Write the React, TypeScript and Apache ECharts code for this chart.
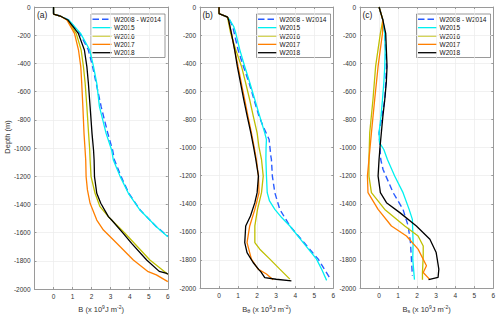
import React, { useEffect, useRef } from "react";
import * as echarts from "echarts";

// ---------- data: [value (x10^9 J m^-2), depth (m)] ----------
const seriesNames = ["W2008 - W2014", "W2015", "W2016", "W2017", "W2018"];
const seriesColors = ["#2a5cff", "#00f0f0", "#bfbf00", "#ff7f00", "#000000"];
const panelLabels = ["(a)", "(b)", "(c)"];
const xTicks = [-1, 0, 1, 2, 3, 4, 5, 6];

// Panel (a): B
const aClim = [[0, 0], [0, -50], [0.35, -64], [0.78, -92], [1.38, -187], [1.83, -305], [2.05, -423], [2.24, -541], [2.5, -707], [2.85, -896], [3.1, -1014], [3.2, -1085], [3.55, -1203], [3.95, -1321], [4.55, -1440], [5.4, -1558], [6, -1625]];
const a2015 = [[0, 0], [0, -50], [0.35, -64], [0.8, -92], [1.42, -187], [1.9, -305], [2.1, -423], [2.27, -541], [2.41, -707], [2.76, -896], [3.05, -1014], [3.14, -1085], [3.5, -1203], [3.93, -1321], [4.54, -1440], [5.4, -1558], [6, -1629]];
const a2016 = [[0, 0], [0, -50], [0.35, -64], [0.72, -92], [1.19, -187], [1.45, -305], [1.57, -423], [1.66, -541], [1.75, -707], [1.84, -896], [1.9, -1014], [1.92, -1085], [1.97, -1203], [2.18, -1321], [2.44, -1416], [2.88, -1487], [3.75, -1605], [5.06, -1794], [6, -1895]];
const a2017 = [[0, 0], [0, -50], [0.35, -64], [0.7, -92], [1.1, -187], [1.31, -305], [1.43, -423], [1.48, -541], [1.54, -707], [1.6, -896], [1.65, -1000], [1.69, -1085], [1.71, -1203], [1.78, -1297], [1.92, -1392], [2.27, -1511], [2.62, -1582], [3.32, -1676], [4.19, -1794], [4.97, -1877], [5.4, -1900], [6, -1948]];
const a2018 = [[0, 0], [0, -50], [0.35, -64], [0.75, -92], [1.3, -187], [1.62, -305], [1.75, -423], [1.83, -541], [1.92, -707], [2.02, -896], [2.1, -1014], [2.13, -1085], [2.15, -1203], [2.27, -1321], [2.48, -1392], [2.88, -1487], [3.05, -1511], [3.66, -1605], [4.1, -1676], [4.89, -1794], [5.55, -1875], [5.95, -1890], [6, -1895]];

// Panel (b): B_theta
const bClim = [[0, 0], [0, -47], [0.45, -72], [0.55, -92], [0.72, -139], [0.8, -187], [1.0, -305], [1.28, -423], [1.58, -541], [1.84, -660], [2.1, -778], [2.35, -860], [2.63, -943], [2.72, -1061], [2.75, -1085], [2.8, -1203], [2.93, -1321], [3.19, -1440], [3.72, -1558], [4.46, -1676], [5.21, -1794], [5.74, -1912], [5.88, -1940]];
const b2015 = [[0, 0], [0, -47], [0.45, -72], [0.56, -92], [0.77, -139], [0.88, -187], [1.09, -305], [1.35, -423], [1.62, -541], [1.88, -660], [2.14, -778], [2.4, -896], [2.49, -943], [2.47, -1000], [2.46, -1085], [2.49, -1203], [2.53, -1321], [2.65, -1380], [2.93, -1440], [3.3, -1500], [3.72, -1558], [4.42, -1676], [5.12, -1794], [5.4, -1870], [5.65, -1945]];
const b2016 = [[0, 0], [0, -47], [0.45, -72], [0.47, -92], [0.61, -187], [0.88, -305], [1.18, -423], [1.4, -541], [1.61, -660], [1.8, -778], [2.0, -896], [2.09, -991], [2.23, -1085], [2.32, -1203], [2.23, -1321], [2.02, -1440], [1.88, -1558], [1.88, -1676], [2.14, -1723], [2.67, -1794], [3.19, -1865], [3.72, -1936]];
const b2017 = [[0, 0], [0, -47], [0.45, -72], [0.5, -92], [0.65, -187], [0.82, -305], [1.0, -423], [1.17, -541], [1.35, -660], [1.52, -778], [1.7, -896], [1.85, -1000], [1.96, -1085], [2.07, -1203], [2.1, -1321], [1.88, -1440], [1.61, -1558], [1.47, -1676], [1.7, -1794], [2.05, -1865], [2.49, -1900], [2.84, -1940]];
const b2018 = [[0, 0], [0, -47], [0.45, -72], [0.5, -92], [0.65, -187], [0.82, -305], [0.96, -423], [1.13, -541], [1.3, -660], [1.48, -778], [1.67, -896], [1.82, -1000], [1.93, -1085], [2.07, -1203], [2.0, -1321], [1.88, -1392], [1.65, -1487], [1.4, -1558], [1.35, -1676], [1.47, -1747], [1.79, -1818], [2.1, -1870], [2.2, -1885], [2.4, -1925], [3.0, -1937], [3.8, -1948]];

// Panel (c): B_s
const cClim = [[0, 0], [0.2, -92], [0.3, -187], [0.39, -423], [0.35, -541], [0.3, -660], [0.15, -780], [0, -896], [0.05, -1000], [0.09, -1085], [0.21, -1156], [0.74, -1321], [1.26, -1440], [1.53, -1558], [1.65, -1676], [1.7, -1794], [1.75, -1912]];
const c2015 = [[0, 0], [0.2, -92], [0.3, -187], [0.32, -305], [0.3, -423], [0.25, -541], [0.18, -660], [0.1, -780], [0, -896], [0.03, -967], [0.25, -1014], [0.44, -1085], [0.82, -1203], [1.26, -1321], [1.58, -1440], [1.75, -1511], [1.79, -1676], [1.77, -1794], [1.86, -1940]];
const c2016 = [[0, 0], [0.2, -92], [0.07, -187], [-0.18, -423], [-0.32, -660], [-0.49, -896], [-0.53, -1085], [-0.53, -1203], [-0.4, -1321], [0.3, -1440], [1.35, -1558], [2.05, -1629], [2.32, -1700], [2.32, -1770], [2.28, -1889], [2.28, -1940]];
const c2017 = [[0, 0], [0.2, -92], [0.18, -187], [-0.05, -423], [-0.23, -660], [-0.4, -896], [-0.53, -1085], [-0.61, -1203], [-0.58, -1321], [-0.05, -1440], [0.65, -1558], [1.44, -1629], [2.05, -1723], [2.49, -1841], [2.32, -1889], [2.67, -1940]];
const c2018 = [[0, 0], [0.2, -92], [0.35, -187], [0.42, -423], [0.38, -541], [0.3, -660], [0.2, -780], [0.12, -896], [0.05, -1000], [0, -1085], [-0.05, -1203], [0.07, -1321], [0.39, -1392], [1.09, -1463], [1.96, -1558], [2.67, -1652], [3.0, -1747], [3.14, -1865], [3.1, -1924], [2.6, -1940]];

const panels = [
  [aClim, a2015, a2016, a2017, a2018],
  [bClim, b2015, b2016, b2017, b2018],
  [cClim, c2015, c2016, c2017, c2018],
];

const FONT = "Liberation Sans, Arial, Helvetica, sans-serif";
const gridLefts = [34.5, 200, 360];
const GRID_TOP = 7;
const GRID_W = 133.3;
const GRID_H = 282;

const xNames = [
  "{n|B (x 10}{sup|9}{n|J m}{sup|-2}{n|)}",
  "{n|B}{sub|θ}{n| (x 10}{sup|9}{n|J m}{sup|-2}{n|)}",
  "{n|B}{sub|s}{n| (x 10}{sup|9}{n|J m}{sup|-2}{n|)}",
];

export default function App() {
  const ref = useRef<HTMLDivElement>(null);

  useEffect(() => {
    if (!ref.current) return;
    const chart = echarts.init(ref.current, undefined, { renderer: "svg" });

    const axisColor = "#9a9a9a";
    const labelColor = "#333333";
    const gridColor = "#ebebeb";

    const grids = gridLefts.map((l) => ({
      left: l,
      top: GRID_TOP,
      width: GRID_W,
      height: GRID_H,
      containLabel: false,
    }));

    const xAxes: any[] = [];
    const yAxes: any[] = [];
    for (let i = 0; i < 3; i++) {
      xAxes.push({
        type: "value",
        gridIndex: i,
        position: "bottom",
        min: xTicks[0],
        max: xTicks[xTicks.length - 1],
        interval: 1,
        name: xNames[i],
        nameLocation: "middle",
        nameGap: 13,
        nameTextStyle: {
          rich: {
            n: { fontSize: 7.5, fontFamily: FONT, color: labelColor, lineHeight: 10 },
            sup: { fontSize: 5, fontFamily: FONT, color: labelColor, verticalAlign: "top", lineHeight: 6 },
            sub: { fontSize: 5.5, fontFamily: FONT, color: labelColor, verticalAlign: "bottom", lineHeight: 6, padding: [4, 0, 0, 0] },
          },
        },
        axisLine: { show: true, onZero: false, lineStyle: { color: axisColor, width: 1 } },
        axisTick: { show: true, inside: true, length: 2, lineStyle: { color: axisColor } },
        axisLabel: {
          fontSize: 6.5,
          fontFamily: FONT,
          color: labelColor,
          margin: 4,
          formatter: (v: number) => (v < 0 ? "" : String(v)),
        },
        splitLine: { show: true, lineStyle: { color: gridColor, width: 0.7 } },
      });
      yAxes.push({
        type: "value",
        gridIndex: i,
        position: "left",
        min: -2000,
        max: 0,
        interval: 200,
        axisLine: { show: true, onZero: false, lineStyle: { color: axisColor, width: 1 } },
        axisTick: { show: true, inside: true, length: 2, lineStyle: { color: axisColor } },
        axisLabel: {
          fontSize: 6.5,
          fontFamily: FONT,
          color: labelColor,
          margin: 4,
          formatter: (v: number) => String(v),
        },
        splitLine: { show: true, lineStyle: { color: gridColor, width: 0.7 } },
      });
    }
    for (let i = 0; i < 3; i++) {
      xAxes.push({
        type: "value",
        gridIndex: i,
        position: "top",
        min: xTicks[0],
        max: xTicks[xTicks.length - 1],
        interval: 1,
        axisLine: { show: true, onZero: false, lineStyle: { color: axisColor, width: 1 } },
        axisTick: { show: true, inside: true, length: 2, lineStyle: { color: axisColor } },
        axisLabel: { show: false },
        splitLine: { show: false },
      });
      yAxes.push({
        type: "value",
        gridIndex: i,
        position: "right",
        min: -2000,
        max: 0,
        interval: 200,
        axisLine: { show: true, onZero: false, lineStyle: { color: axisColor, width: 1 } },
        axisTick: { show: true, inside: true, length: 2, lineStyle: { color: axisColor } },
        axisLabel: { show: false },
        splitLine: { show: false },
      });
    }

    const series: any[] = [];
    panels.forEach((curves, p) => {
      curves.forEach((data, k) => {
        series.push({
          type: "line",
          name: seriesNames[k],
          xAxisIndex: p,
          yAxisIndex: p,
          data,
          symbol: "none",
          showSymbol: false,
          clip: true,
          z: 2 + k,
          lineStyle: {
            color: seriesColors[k],
            width: k === 0 ? 1.4 : 1.3,
            type: k === 0 ? [6, 3.5] : "solid",
          },
          itemStyle: { color: seriesColors[k] },
        });
      });
    });

    const graphic: any[] = panelLabels.map((t, i) => ({
      type: "text",
      left: gridLefts[i] + 2.5,
      top: 10,
      z: 10,
      style: { text: t, fontSize: 8.5, fontFamily: FONT, fill: "#222222" },
    }));
    graphic.push({
      type: "text",
      x: 7,
      y: 137,
      rotation: Math.PI / 2,
      z: 10,
      style: {
        text: "Depth (m)",
        fontSize: 7.5,
        fontFamily: FONT,
        fill: labelColor,
        align: "center",
        verticalAlign: "middle",
      },
    });

    // legend boxes (one per panel)
    gridLefts.forEach((l) => {
      const bx = l + 56.5;
      const by = 14;
      const children: any[] = [
        {
          type: "rect",
          shape: { x: 0, y: 0, width: 74, height: 43.5 },
          style: { fill: "#ffffff", stroke: "#555555", lineWidth: 0.6 },
        },
      ];
      seriesNames.forEach((name, k) => {
        const yy = 5.3 + k * 8.35;
        children.push({
          type: "line",
          shape: { x1: 1.5, y1: yy, x2: 20.5, y2: yy },
          style: {
            stroke: seriesColors[k],
            lineWidth: k === 0 ? 1.4 : 1.3,
            lineDash: k === 0 ? [6.5, 3] : null,
          },
        });
        children.push({
          type: "text",
          x: 23,
          y: yy,
          style: {
            text: name,
            fontSize: 6.5,
            fontFamily: FONT,
            fill: "#111111",
            verticalAlign: "middle",
          },
        });
      });
      graphic.push({ type: "group", x: bx, y: by, z: 20, children });
    });

    chart.setOption({
      animation: false,
      backgroundColor: "#ffffff",
      textStyle: { fontFamily: FONT },
      grid: grids,
      xAxis: xAxes,
      yAxis: yAxes,
      series,
      graphic,
    });

    return () => chart.dispose();
  }, []);

  return (
    <div
      ref={ref}
      style={{ position: "fixed", left: 0, top: 0, width: 500, height: 319 }}
    />
  );
}
